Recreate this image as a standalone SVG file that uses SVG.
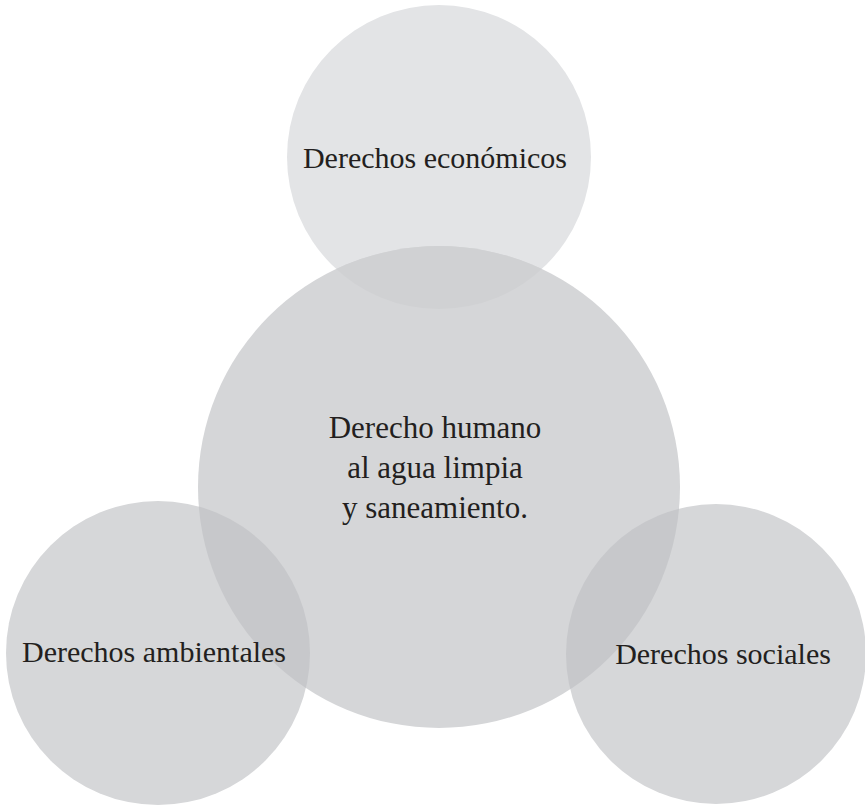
<svg xmlns="http://www.w3.org/2000/svg" width="865" height="806" viewBox="0 0 865 806">
  <style>
    .lbl { font-family: "Liberation Serif", "DejaVu Serif", serif; font-size: 30px; fill: #231f20; text-anchor: middle; }
    .top { fill: #e3e4e6; }
    .mid { fill: #d5d6d8; }
    .side { fill: #d6d7d9; }
    .ov1 { fill: #d0d1d3; }
    .ov2 { fill: #c7c8cb; }
  </style>
  <defs>
    <clipPath id="clipTop"><circle cx="439" cy="157" r="152"/></clipPath>
    <clipPath id="clipMid"><circle cx="439" cy="487" r="241"/></clipPath>
  </defs>
  <rect width="865" height="806" fill="#ffffff"/>
  <g id="node-economicos">
    <circle class="top" cx="439" cy="157" r="152"/>
    <text class="lbl" x="435" y="168">Derechos económicos</text>
  </g>
  <g id="node-central">
    <circle class="mid" cx="439" cy="487" r="241"/>
    <circle class="ov1" cx="439" cy="487" r="241" clip-path="url(#clipTop)"/>
    <text class="lbl" style="font-size:31px" x="435" y="438">Derecho humano</text>
    <text class="lbl" style="font-size:31px" x="435" y="478">al agua limpia</text>
    <text class="lbl" style="font-size:31px" x="435" y="518">y saneamiento.</text>
  </g>
  <g id="node-ambientales">
    <circle class="side" cx="158" cy="653" r="152"/>
    <circle class="ov2" cx="158" cy="653" r="152" clip-path="url(#clipMid)"/>
    <text class="lbl" x="154" y="662">Derechos ambientales</text>
  </g>
  <g id="node-sociales">
    <circle class="side" cx="716" cy="654" r="150"/>
    <circle class="ov2" cx="716" cy="654" r="150" clip-path="url(#clipMid)"/>
    <text class="lbl" x="723" y="664">Derechos sociales</text>
  </g>
  <g id="connectors"/>
</svg>
